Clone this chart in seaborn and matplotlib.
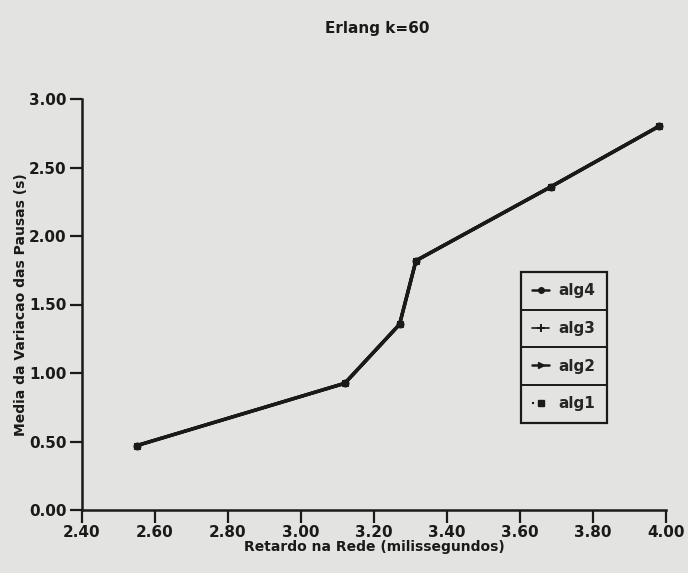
import matplotlib
matplotlib.use("Agg")
import matplotlib.pyplot as plt
from matplotlib.lines import Line2D
import seaborn as sns
import pandas as pd

# ---- data ----
retardo = [2.55, 3.12, 3.27, 3.315, 3.685, 3.98]
media_var = [0.47, 0.925, 1.355, 1.82, 2.36, 2.80]
algs = ["alg4", "alg3", "alg2", "alg1"]
xticks = [2.40, 2.60, 2.80, 3.00, 3.20, 3.40, 3.60, 3.80, 4.00]
yticks = [0.00, 0.50, 1.00, 1.50, 2.00, 2.50, 3.00]

rows = []
for a in algs:
    for xv, yv in zip(retardo, media_var):
        rows.append({"alg": a, "x": xv, "y": yv})
df = pd.DataFrame(rows)

sns.set_theme(style="ticks")
plt.rcParams["font.family"] = ["DejaVu Sans"]
plt.rcParams["font.weight"] = "bold"

bg = "#e3e3e1"
fig = plt.figure(figsize=(6.88, 5.73), dpi=100, facecolor=bg)
ax = fig.add_axes([82 / 688, 1 - 510 / 573, (666 - 82) / 688, (510 - 99) / 573])
ax.set_facecolor(bg)

palette = {a: "#1a1a1a" for a in algs}
markers = {"alg4": "o", "alg3": "P", "alg2": ">", "alg1": "s"}
dashes = {"alg4": "", "alg3": "", "alg2": "", "alg1": (1, 3)}
sns.lineplot(data=df, x="x", y="y", hue="alg", style="alg", hue_order=algs,
             style_order=algs, palette=palette, markers=markers, dashes=dashes,
             linewidth=2.2, markersize=5, markeredgecolor="#1a1a1a",
             ax=ax, legend=False)
# draw thick solid line on top (all series overlap)
ax.plot(retardo, media_var, color="#1a1a1a", lw=2.6, zorder=3)

ax.set_xlim(2.40, 4.00)
ax.set_ylim(0.0, 3.0)
ax.set_xticks(xticks)
ax.set_yticks(yticks)
ax.set_xticklabels([f"{v:.2f}" for v in xticks], fontsize=11, fontweight="bold")
ax.set_yticklabels([f"{v:.2f}" for v in yticks], fontsize=11, fontweight="bold")
ax.tick_params(direction="out", length=9, width=1.6, color="#1a1a1a", pad=2,
               labelcolor="#1a1a1a")
sns.despine(ax=ax)
for s in ("left", "bottom"):
    ax.spines[s].set_linewidth(1.8)
    ax.spines[s].set_color("#1a1a1a")

ax.set_xlabel("Retardo na Rede (milissegundos)", fontsize=10, fontweight="bold",
              color="#1a1a1a", labelpad=0)
ax.set_ylabel("Media da Variacao das Pausas (s)", fontsize=10, fontweight="bold",
              color="#1a1a1a", labelpad=1)
fig.text(377 / 688, 1 - 28 / 573, "Erlang k=60", ha="center", va="center",
         fontsize=11, fontweight="bold", color="#1a1a1a")

# legend as a boxed table
handles = [
    Line2D([], [], color="#1a1a1a", lw=1.8, marker="o", markersize=4),
    Line2D([], [], color="#1a1a1a", lw=1.2, marker="+", markersize=6, markeredgewidth=1.4),
    Line2D([], [], color="#1a1a1a", lw=1.8, marker=">", markersize=4),
    Line2D([], [], color="#1a1a1a", lw=1.5, ls=(0, (1, 4)), marker="s", markersize=4,
           markevery=[1]),
]
leg = ax.legend(handles, algs, loc="upper left",
                bbox_to_anchor=(521 / 688, 1 - 272 / 573), bbox_transform=fig.transFigure,
                frameon=True, fancybox=False, edgecolor="#1a1a1a", facecolor=bg,
                framealpha=1, prop={"size": 11, "weight": "bold"},
                handlelength=1.1, handletextpad=0.6, labelspacing=1.48,
                borderpad=0.75, borderaxespad=0)
leg.get_frame().set_linewidth(1.6)

fig.canvas.draw()
r = fig.canvas.get_renderer()
lb = leg.get_window_extent(r)
texts = leg.get_texts()
inv = fig.transFigure.inverted()
for t1, t2 in zip(texts[:-1], texts[1:]):
    e1 = t1.get_window_extent(r)
    e2 = t2.get_window_extent(r)
    ymid = (e1.y0 + e2.y1) / 2
    (x0, y0) = inv.transform((lb.x0, ymid))
    (x1, _) = inv.transform((lb.x1, ymid))
    fig.add_artist(Line2D([x0, x1], [y0, y0], color="#1a1a1a", lw=1.4,
                          transform=fig.transFigure, zorder=10))

fig.savefig("out.png", dpi=100, facecolor=bg)
